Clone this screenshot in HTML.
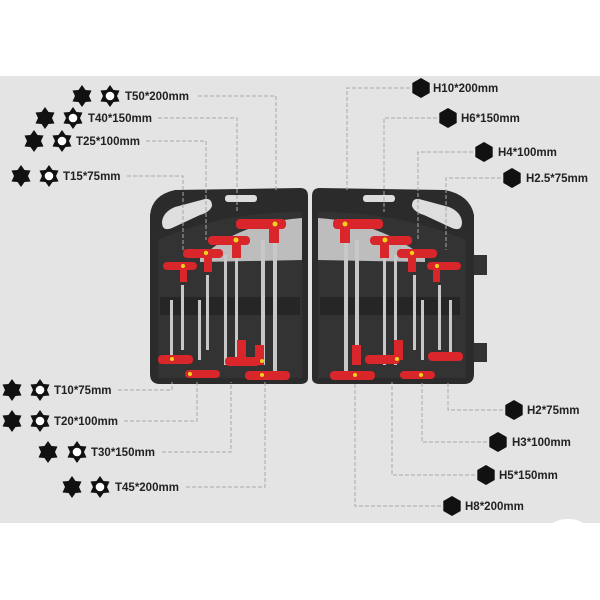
<!DOCTYPE html>
<html><head><meta charset="utf-8"><style>
html,body{margin:0;padding:0;background:#fff;}
svg{display:block}
text{font-family:"Liberation Sans",sans-serif;font-weight:bold;font-size:11.5px;fill:#222}
</style></head><body>
<svg width="600" height="600" viewBox="0 0 600 600" xmlns="http://www.w3.org/2000/svg">
<defs>
<polygon id="st" points="0,-11 3.5,-6 9.5,-5.5 7,0 9.5,5.5 3.5,6 0,11 -3.5,6 -9.5,5.5 -7,0 -9.5,-5.5 -3.5,-6" fill="#111"/>
<g id="st2"><use href="#st"/><circle r="4.3" fill="#fff"/></g>
<polygon id="hx" points="0,-10 8.7,-5 8.7,5 0,10 -8.7,5 -8.7,-5" fill="#111"/>
</defs>
<rect x="0" y="76" width="600" height="447" fill="#e4e4e4"/>
<ellipse cx="568" cy="528" rx="18" ry="9" fill="#fff"/>

<!-- case -->
<g>
<path d="M150,215 Q152,195 175,190 L300,188 Q308,188 308,196 L308,378 Q308,384 300,384 L160,384 Q150,384 150,374 Z" fill="#2b2b2b"/>
<path d="M312,196 Q312,188 320,188 L445,190 Q470,195 474,215 L474,374 Q474,384 464,384 L320,384 Q312,384 312,378 Z" fill="#2b2b2b"/>
<rect x="474" y="255" width="13" height="20" fill="#333"/>
<rect x="474" y="343" width="13" height="19" fill="#333"/>
<path d="M162,222 Q163,212 175,207 L205,199 Q212,198 212,206 Q210,212 200,215 L172,228 Q162,232 162,222 Z" fill="#dedede"/>
<rect x="225" y="195" width="32" height="7" rx="3" fill="#ddd"/>
<path d="M462,222 Q461,212 449,207 L419,199 Q412,198 412,206 Q414,212 424,215 L452,228 Q462,232 462,222 Z" fill="#dedede"/>
<rect x="363" y="195" width="32" height="7" rx="3" fill="#ddd"/>
<path d="M158,270 L158,240 Q220,212 302,212 L302,378 L158,378 Z" fill="#333"/>
<path d="M318,212 Q400,212 466,240 L466,378 L318,378 Z" fill="#333"/>
<path d="M200,258 Q240,222 302,218 L302,260 L200,262 Z" fill="#bdbdbd"/>
<path d="M318,218 Q380,222 425,258 L425,262 L318,260 Z" fill="#bdbdbd"/>
<rect x="160" y="297" width="140" height="18" fill="#262626"/>
<rect x="320" y="297" width="140" height="18" fill="#262626"/>
</g>
<g fill="#c8c8c8">
<rect x="181" y="285" width="3" height="65"/><rect x="206" y="275" width="3" height="75"/>
<rect x="224" y="255" width="3" height="110"/><rect x="235" y="255" width="3" height="110"/>
<rect x="261" y="240" width="4" height="125"/><rect x="273" y="230" width="4" height="150"/>
<rect x="170" y="300" width="3" height="60"/><rect x="198" y="300" width="3" height="60"/>
<rect x="344" y="230" width="4" height="150"/><rect x="355" y="240" width="4" height="125"/>
<rect x="383" y="255" width="3" height="110"/><rect x="394" y="255" width="3" height="110"/>
<rect x="413" y="275" width="3" height="75"/><rect x="438" y="285" width="3" height="65"/>
<rect x="421" y="300" width="3" height="60"/><rect x="449" y="300" width="3" height="60"/>
</g>
<g fill="#d8262a">
<rect x="236" y="219" width="50" height="10" rx="4"/><rect x="269" y="225" width="10" height="18"/>
<rect x="208" y="236" width="42" height="9" rx="4"/><rect x="232" y="240" width="9" height="18"/>
<rect x="183" y="249" width="40" height="9" rx="4"/><rect x="204" y="254" width="8" height="18"/>
<rect x="163" y="262" width="34" height="8" rx="4"/><rect x="180" y="266" width="7" height="16"/>
<rect x="333" y="219" width="50" height="10" rx="4"/><rect x="340" y="225" width="10" height="18"/>
<rect x="370" y="236" width="42" height="9" rx="4"/><rect x="380" y="240" width="9" height="18"/>
<rect x="397" y="249" width="40" height="9" rx="4"/><rect x="408" y="254" width="8" height="18"/>
<rect x="427" y="262" width="34" height="8" rx="4"/><rect x="433" y="266" width="7" height="16"/>
<rect x="158" y="355" width="35" height="9" rx="4"/><rect x="185" y="370" width="35" height="8" rx="4"/>
<rect x="225" y="357" width="35" height="9" rx="4"/><rect x="245" y="371" width="45" height="9" rx="4"/>
<rect x="255" y="345" width="9" height="20"/><rect x="237" y="340" width="9" height="20"/>
<rect x="330" y="371" width="45" height="9" rx="4"/><rect x="365" y="355" width="35" height="9" rx="4"/>
<rect x="400" y="371" width="35" height="8" rx="4"/><rect x="428" y="352" width="35" height="9" rx="4"/>
<rect x="352" y="345" width="9" height="20"/><rect x="394" y="340" width="9" height="20"/>
</g>
<g fill="#f2d21a">
<circle cx="275" cy="224" r="2.5"/><circle cx="236" cy="240" r="2.5"/><circle cx="206" cy="253" r="2.2"/><circle cx="183" cy="266" r="2"/>
<circle cx="345" cy="224" r="2.5"/><circle cx="385" cy="240" r="2.5"/><circle cx="412" cy="253" r="2.2"/><circle cx="437" cy="266" r="2"/>
<circle cx="172" cy="359" r="2"/><circle cx="190" cy="374" r="2"/><circle cx="262" cy="361" r="2"/><circle cx="262" cy="375" r="2"/>
<circle cx="355" cy="375" r="2"/><circle cx="397" cy="359" r="2"/><circle cx="421" cy="375" r="2"/>
</g>

<g fill="none" stroke="#a8a8a8" stroke-width="1" stroke-dasharray="4,2">
<polyline points="198,96 276,96 276,190"/>
<polyline points="158,118 237,118 237,212"/>
<polyline points="146,141 206,141 206,240"/>
<polyline points="127,176 183,176 183,250"/>
<polyline points="118,390 172,390 172,382"/>
<polyline points="124,421 197,421 197,382"/>
<polyline points="162,452 231,452 231,382"/>
<polyline points="186,487 265,487 265,382"/>
<polyline points="410,88 347,88 347,190"/>
<polyline points="437,118 384,118 384,212"/>
<polyline points="473,152 418,152 418,240"/>
<polyline points="501,178 446,178 446,250"/>
<polyline points="503,410 448,410 448,382"/>
<polyline points="487,442 422,442 422,382"/>
<polyline points="475,475 392,475 392,382"/>
<polyline points="441,506 355,506 355,382"/>
</g>

<use href="#st" x="82" y="96"/><use href="#st2" x="110" y="96"/><text x="125" y="100">T50*200mm</text>
<use href="#st" x="45" y="118"/><use href="#st2" x="73" y="118"/><text x="88" y="122">T40*150mm</text>
<use href="#st" x="34" y="141"/><use href="#st2" x="62" y="141"/><text x="76" y="145">T25*100mm</text>
<use href="#st" x="21" y="176"/><use href="#st2" x="49" y="176"/><text x="63" y="180">T15*75mm</text>
<use href="#st" x="12" y="390"/><use href="#st2" x="40" y="390"/><text x="54" y="394">T10*75mm</text>
<use href="#st" x="12" y="421"/><use href="#st2" x="40" y="421"/><text x="54" y="425">T20*100mm</text>
<use href="#st" x="48" y="452"/><use href="#st2" x="77" y="452"/><text x="91" y="456">T30*150mm</text>
<use href="#st" x="72" y="487"/><use href="#st2" x="100" y="487"/><text x="115" y="491">T45*200mm</text>

<use href="#hx" x="421" y="88"/><text x="433" y="92">H10*200mm</text>
<use href="#hx" x="448" y="118"/><text x="461" y="122">H6*150mm</text>
<use href="#hx" x="484" y="152"/><text x="498" y="156">H4*100mm</text>
<use href="#hx" x="512" y="178"/><text x="526" y="182">H2.5*75mm</text>
<use href="#hx" x="514" y="410"/><text x="527" y="414">H2*75mm</text>
<use href="#hx" x="498" y="442"/><text x="512" y="446">H3*100mm</text>
<use href="#hx" x="486" y="475"/><text x="499" y="479">H5*150mm</text>
<use href="#hx" x="452" y="506"/><text x="465" y="510">H8*200mm</text>
</svg>
</body></html>
